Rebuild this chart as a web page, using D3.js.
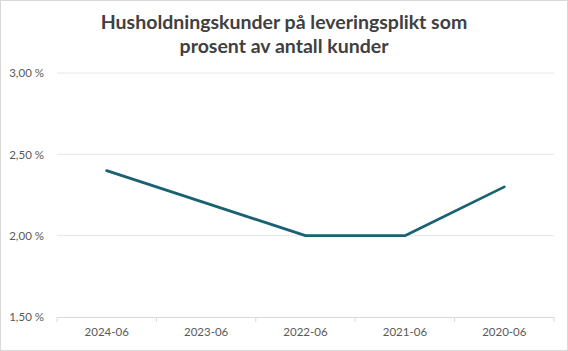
<!DOCTYPE html>
<html><head><meta charset="utf-8">
<script src="https://cdn.jsdelivr.net/npm/d3@7"></script>
<style>body{margin:0;background:#fff}svg{display:block}</style>
</head><body>
<script>
const categories = ["2024-06","2023-06","2022-06","2021-06","2020-06"];
const values = [2.40, 2.20, 2.00, 2.00, 2.30];
const yTicks = [1.5, 2.0, 2.5, 3.0];
const titleLines = ["Husholdningskunder på leveringsplikt som","prosent av antall kunder"];

const W = 568, H = 351;
const m = {left:57, right:14, top:73, bottom:34};
const svg = d3.select("body").append("svg").attr("width", W).attr("height", H);
svg.append("rect").attr("x",0.5).attr("y",0.5).attr("width",W-1).attr("height",H-1)
  .attr("fill","#fff").attr("stroke","#d9d9d9");

const x = d3.scaleBand().domain(categories).range([m.left, W - m.right]);
const y = d3.scaleLinear().domain([1.5, 3.0]).range([H - m.bottom, m.top]);

const fmt = v => d3.format(".2f")(v).replace(".", ",") + " %";

// gridlines
svg.append("g").selectAll("line").data(yTicks.filter(t => t > 1.5)).join("line")
  .attr("x1", m.left).attr("x2", W - m.right)
  .attr("y1", d => y(d)).attr("y2", d => y(d))
  .attr("stroke", "#e6e6e6").attr("stroke-width", 1);

// y axis labels
const ya = svg.append("g").attr("transform", `translate(${m.left},0)`)
  .call(d3.axisLeft(y).tickValues(yTicks).tickFormat(fmt).tickSize(0).tickPadding(13));
ya.select(".domain").remove();
ya.selectAll("text").attr("fill","#595959").style("font-family","Lato, sans-serif").style("font-size","11.5px");

// x axis
const xa = svg.append("g").attr("transform", `translate(0,${y(1.5)})`)
  .call(d3.axisBottom(x).tickSize(0).tickPadding(11));
xa.select(".domain").attr("stroke","#d9d9d9");
xa.selectAll("text").attr("fill","#595959").style("font-family","Lato, sans-serif").style("font-size","11.5px");
// tick marks at band boundaries
const bounds = categories.map(c => x(c)).concat([x(categories[categories.length-1]) + x.bandwidth()]);
xa.append("g").selectAll("line").data(bounds).join("line")
  .attr("x1", d => d).attr("x2", d => d).attr("y1", 0).attr("y2", 5)
  .attr("stroke", "#d9d9d9");

// line
const line = d3.line().x((d,i) => x(categories[i]) + x.bandwidth()/2).y(d => y(d));
svg.append("path").datum(values).attr("d", line)
  .attr("fill","none").attr("stroke","#1a6273").attr("stroke-width",2.75)
  .attr("stroke-linejoin","round").attr("stroke-linecap","round");

// title
svg.append("g").selectAll("text").data(titleLines).join("text")
  .attr("x", W/2).attr("y", (d,i) => 29 + i*24)
  .attr("text-anchor","middle").attr("fill","#404040")
  .style("font-family","Lato, sans-serif").style("font-weight","bold").style("font-size","19.5px")
  .text(d => d);
</script>
</body></html>
